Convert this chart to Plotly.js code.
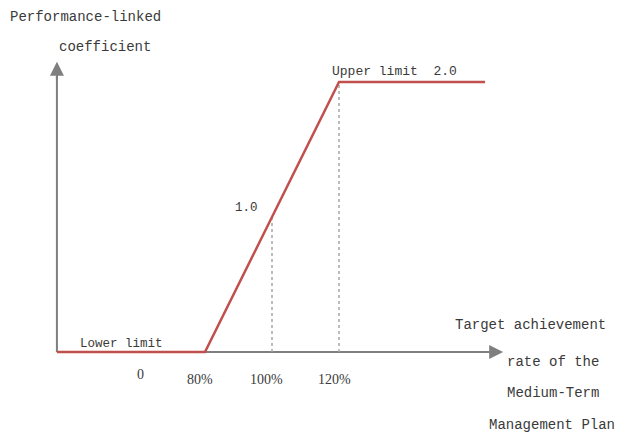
<!DOCTYPE html>
<html>
<head>
<meta charset="utf-8">
<script src="https://cdn.plot.ly/plotly-3.0.1.min.js"></script>
<style>html,body{margin:0;padding:0;background:#fff;}#chart{width:618px;height:436px;}</style>
</head>
<body>
<div id="chart"></div>
<script>
// Schematic: achievement rate (%) vs performance-linked coefficient
var rateLine = [35.8, 80, 120, 163.6];
var coefLine = [0, 0, 2, 2];
var guideRates = [100, 120];
var guideCoefs = [1.0, 2.0];
var tickPos = [60.6, 78.5, 98.5, 118.8];
var tickText = ["0", "80%", "100%", "120%"];
var axisOrigin = [35.8, 0];
var xAxisEnd = 169;
var yAxisEnd = 2.15;

var grey = '#7f7f7f';
var red = '#c0504d';
var txt = '#3a3a3a';
var mono = '"Liberation Mono", "DejaVu Sans Mono", monospace';
var serif = '"Liberation Serif", "DejaVu Serif", serif';

var traces = [];
// axis lines (under the red line)
traces.push({x:[axisOrigin[0], xAxisEnd - 3], y:[axisOrigin[1], axisOrigin[1]], mode:'lines',
  line:{color:grey, width:2}, hoverinfo:'skip', showlegend:false});
traces.push({x:[axisOrigin[0], axisOrigin[0]], y:[axisOrigin[1], yAxisEnd - 0.06], mode:'lines',
  line:{color:grey, width:2}, hoverinfo:'skip', showlegend:false});
// dotted guides
guideRates.forEach(function(r, i){
  traces.push({x:[r, r], y:[0, guideCoefs[i]], mode:'lines',
    line:{color:'#a6a6a6', width:1.5, dash:'dot'}, hoverinfo:'skip', showlegend:false});
});
// coefficient line
traces.push({x:rateLine, y:coefLine, mode:'lines', line:{color:red, width:2.5},
  hoverinfo:'skip', showlegend:false});

function ann(text, x, y, size, font, xanchor){
  return {text:text, x:x, y:y, xref:'x', yref:'y', showarrow:false,
    xanchor:xanchor || 'center', yanchor:'middle',
    font:{family:font, size:size, color:txt}};
}
var annotations = [
  ann('Performance-linked', 44.2, 2.48, 14, mono),
  ann('coefficient', 50.2, 2.259, 14, mono),
  ann('Upper limit  2.0', 117.3, 2.08, 13, mono, 'left'),
  ann('Lower limit', 42.1, 0.059, 12.5, mono, 'left'),
  ann('1.0', 92.5, 1.067, 12.5, mono),
  ann('Target achievement', 177.3, 0.2, 14, mono),
  ann('rate of the', 183.9, -0.074, 14, mono),
  ann('Medium-Term', 183.9, -0.304, 14, mono),
  ann('Management Plan', 183.6, -0.54, 14, mono)
];
tickPos.forEach(function(p, i){
  annotations.push(ann(tickText[i], p, i === 0 ? -0.163 : -0.207, 14, serif));
});
// arrowheads
annotations.push({x:xAxisEnd, y:0, ax:xAxisEnd - 8, ay:0, xref:'x', yref:'y', axref:'x', ayref:'y',
  showarrow:true, arrowhead:2, arrowsize:1.4, arrowwidth:2, arrowcolor:grey, text:'', standoff:0});
annotations.push({x:axisOrigin[0], y:yAxisEnd, ax:axisOrigin[0], ay:yAxisEnd - 0.15, xref:'x', yref:'y', axref:'x', ayref:'y',
  showarrow:true, arrowhead:2, arrowsize:1.4, arrowwidth:2, arrowcolor:grey, text:'', standoff:0});

var layout = {
  width:618, height:436,
  margin:{l:0, r:0, t:0, b:0},
  paper_bgcolor:'#fff', plot_bgcolor:'#fff',
  xaxis:{range:[18.81, 203.28], visible:false, fixedrange:true},
  yaxis:{range:[-0.622, 2.607], visible:false, fixedrange:true},
  annotations:annotations,
  showlegend:false
};
Plotly.newPlot('chart', traces, layout, {displayModeBar:false, staticPlot:true});
</script>
</body>
</html>
